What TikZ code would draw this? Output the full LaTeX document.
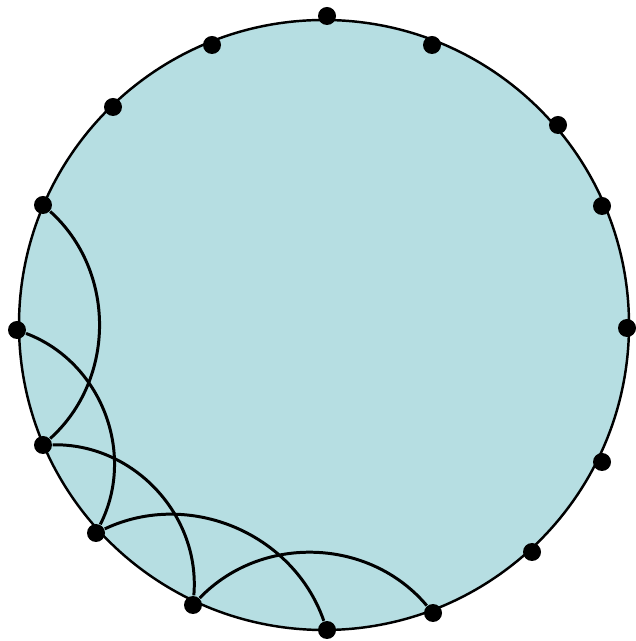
\documentclass[tikz,border=0pt]{standalone}
\usepackage{tikz}
\definecolor{diskblue}{RGB}{182,222,226}

\begin{document}
\begin{tikzpicture}[
  vtx/.style={circle, fill=black, inner sep=0pt, minimum size=0.18cm},
  rim/.style={draw=black, line width=0.7pt, fill=diskblue},
  geo/.style={draw=black, line width=0.85pt},
]
\useasboundingbox (0,0) rectangle (6.36,6.41);

% Disk
\draw[rim] (3.24,3.16) circle (3.05cm);

% Boundary points
\node[vtx] (v0)  at (6.27,3.13) {};
\node[vtx] (v1)  at (6.02,4.35) {};
\node[vtx] (v2)  at (5.58,5.16) {};
\node[vtx] (v3)  at (4.32,5.96) {};
\node[vtx] (v4)  at (3.27,6.25) {};
\node[vtx] (v5)  at (2.12,5.96) {};
\node[vtx] (v6)  at (1.13,5.34) {};
\node[vtx] (v7)  at (0.43,4.36) {};
\node[vtx] (v8)  at (0.17,3.11) {};
\node[vtx] (v9)  at (0.43,1.96) {};
\node[vtx] (v10) at (0.96,1.08) {};
\node[vtx] (v11) at (1.93,0.36) {};
\node[vtx] (v12) at (3.27,0.11) {};
\node[vtx] (v13) at (4.33,0.28) {};
\node[vtx] (v14) at (5.32,0.89) {};
\node[vtx] (v15) at (6.02,1.79) {};

% Arcs
\draw[geo] (v7)  to[bend left=48] (v9);
\draw[geo] (v8)  to[bend left=48] (v10);
\draw[geo] (v9)  to[bend left=48] (v11);
\draw[geo] (v10) to[bend left=48] (v12);
\draw[geo] (v11) to[bend left=48] (v13);

\end{tikzpicture}
\end{document}
